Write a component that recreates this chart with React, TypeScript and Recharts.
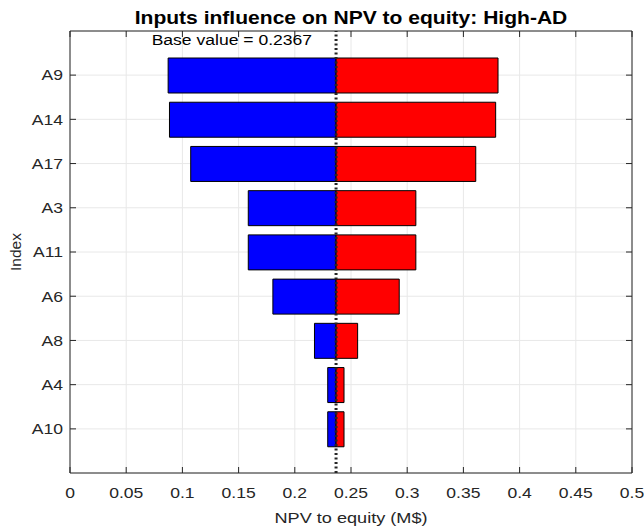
import React from 'react';
import {
  BarChart,
  Bar,
  XAxis,
  YAxis,
  CartesianGrid,
  ReferenceLine,
} from 'recharts';

const categories = ['A9', 'A14', 'A17', 'A3', 'A11', 'A6', 'A8', 'A4', 'A10'];
const lowValues = [0.0873, 0.0885, 0.1074, 0.1586, 0.1586, 0.1805, 0.2175, 0.2293, 0.2293];
const highValues = [0.3808, 0.3787, 0.361, 0.3077, 0.3077, 0.2929, 0.2559, 0.2438, 0.2438];
const baseValue = 0.2367;
const xTicks = [0, 0.05, 0.1, 0.15, 0.2, 0.25, 0.3, 0.35, 0.4, 0.45, 0.5];
const xTickLabels = ['0', '0.05', '0.1', '0.15', '0.2', '0.25', '0.3', '0.35', '0.4', '0.45', '0.5'];

const titleText = 'Inputs influence on NPV to equity: High-AD';
const xLabelText = 'NPV to equity (M$)';
const yLabelText = 'Index';
const baseLabelText = 'Base value = ' + baseValue.toFixed(4);

const data = categories.map((name, i) => ({
  name,
  offset: lowValues[i],
  low: baseValue - lowValues[i],
  high: highValues[i] - baseValue,
}));

const FONT = '"Liberation Sans", Arial, Helvetica, sans-serif';
const AXIS_COLOR = '#262626';
const GRID_COLOR = '#e8e8e8';
const SX = 1.17;

// layout constants shared between the chart and the frame overlay
const W = 644;
const H = 530;
const MARGIN = { top: 31, right: 12, bottom: 0, left: 8 };
const Y_AXIS_W = 62;
const X_AXIS_H = 57;
const CAT_PAD = 22;
const TICK_LEN = 6;
const plotLeft = MARGIN.left + Y_AXIS_W;
const plotTop = MARGIN.top;
const plotRight = W - MARGIN.right;
const plotBottom = H - MARGIN.bottom - X_AXIS_H;

const XTick = (props: any) => {
  const { x, y, payload } = props;
  const i = xTicks.indexOf(payload.value);
  const label = i >= 0 ? xTickLabels[i] : String(payload.value);
  return (
    <text
      transform={`translate(${x},${y}) scale(${SX},1)`}
      textAnchor="middle"
      dy={10.6}
      fontFamily={FONT}
      fontSize={15}
      fill={AXIS_COLOR}
    >
      {label}
    </text>
  );
};

const YTick = (props: any) => {
  const { x, y, payload } = props;
  return (
    <text
      transform={`translate(${x},${y}) scale(${SX},1)`}
      textAnchor="end"
      dy={5.3}
      fontFamily={FONT}
      fontSize={15}
      fill={AXIS_COLOR}
    >
      {payload.value}
    </text>
  );
};

const BaseLabel = (props: any) => {
  const vb = props.viewBox || {};
  return (
    <text
      transform={`translate(${vb.x - 24},${vb.y + 14.4}) scale(${SX},1)`}
      textAnchor="end"
      fontFamily={FONT}
      fontSize={15}
      fill="#000"
    >
      {baseLabelText}
    </text>
  );
};

export default function App() {
  const band = (plotBottom - plotTop - 2 * CAT_PAD) / categories.length;
  const topTickXs = xTicks.map(
    (t) => plotLeft + ((t - xTicks[0]) / (xTicks[xTicks.length - 1] - xTicks[0])) * (plotRight - plotLeft)
  );
  const rightTickYs = categories.map((_, i) => plotTop + CAT_PAD + (i + 0.5) * band);
  return (
    <div style={{ position: 'fixed', left: 0, top: 0, width: W, height: H, background: '#fff' }}>
      <div style={{ position: 'absolute', left: 0, top: 0, zIndex: 1 }}>
        <BarChart
          width={W}
          height={H}
          data={data}
          layout="vertical"
          margin={MARGIN}
          barSize={35}
        >
          <CartesianGrid stroke={GRID_COLOR} strokeWidth={1} />
          <XAxis
            type="number"
            domain={[0, 0.5]}
            ticks={xTicks}
            allowDataOverflow
            height={X_AXIS_H}
            tickSize={-TICK_LEN}
            tickMargin={20}
            stroke={AXIS_COLOR}
            tick={<XTick />}
            interval={0}
          />
          <YAxis
            type="category"
            dataKey="name"
            width={Y_AXIS_W}
            padding={{ top: CAT_PAD, bottom: CAT_PAD }}
            tickSize={-TICK_LEN}
            tickMargin={13}
            stroke={AXIS_COLOR}
            tick={<YTick />}
            interval={0}
          />
          <ReferenceLine
            x={baseValue}
            stroke={AXIS_COLOR}
            strokeWidth={3}
            strokeDasharray="2 2.5"
            label={<BaseLabel />}
          />
          <Bar dataKey="offset" stackId="s" fill="none" stroke="none" isAnimationActive={false} />
          <Bar dataKey="low" stackId="s" fill="#0000ff" stroke="#000" strokeWidth={1} isAnimationActive={false} />
          <Bar dataKey="high" stackId="s" fill="#ff0000" stroke="#000" strokeWidth={1} isAnimationActive={false} />
        </BarChart>
      </div>
      <svg
        width={W}
        height={H}
        style={{ position: 'absolute', left: 0, top: 0, pointerEvents: 'none', zIndex: 10 }}
      >
        <line x1={plotLeft} y1={plotTop} x2={plotRight} y2={plotTop} stroke={AXIS_COLOR} strokeWidth={1} />
        <line x1={plotRight} y1={plotTop} x2={plotRight} y2={plotBottom} stroke={AXIS_COLOR} strokeWidth={1} />
        {topTickXs.map((x, i) => (
          <line key={'tt' + i} x1={x} y1={plotTop} x2={x} y2={plotTop + TICK_LEN} stroke={AXIS_COLOR} strokeWidth={1} />
        ))}
        {rightTickYs.map((y, i) => (
          <line key={'rt' + i} x1={plotRight} y1={y} x2={plotRight - TICK_LEN} y2={y} stroke={AXIS_COLOR} strokeWidth={1} />
        ))}
        <text
          transform={`translate(351,24) scale(${SX},1)`}
          textAnchor="middle"
          fontFamily={FONT}
          fontSize={18}
          fontWeight="bold"
          fill="#000"
        >
          {titleText}
        </text>
        <text
          transform={`translate(351,522.7) scale(${SX},1)`}
          textAnchor="middle"
          fontFamily={FONT}
          fontSize={15.5}
          fill={AXIS_COLOR}
        >
          {xLabelText}
        </text>
        <text
          transform="translate(21,252) rotate(-90)"
          textAnchor="middle"
          fontFamily={FONT}
          fontSize={15.5}
          fill={AXIS_COLOR}
        >
          {yLabelText}
        </text>
      </svg>
    </div>
  );
}
